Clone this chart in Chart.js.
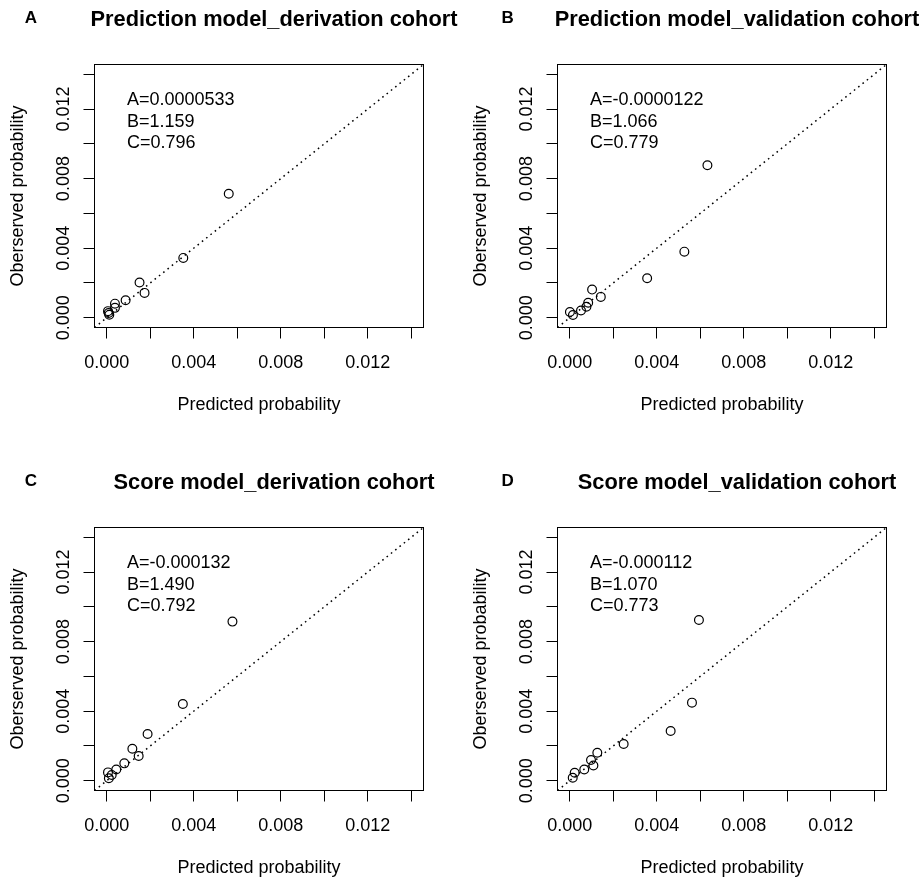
<!DOCTYPE html>
<html>
<head>
<meta charset="utf-8">
<script src="https://cdn.jsdelivr.net/npm/chart.js@4/dist/chart.umd.min.js"></script>
<style>
  html, body { margin: 0; padding: 0; background: #fff; }
  #wrap { position: relative; width: 924px; height: 878px; overflow: hidden; background: #fff; }
  canvas { position: absolute; }
</style>
</head>
<body>
<div id="wrap">
  <canvas id="cA" width="463" height="463" style="left:0;top:0"></canvas>
  <canvas id="cB" width="461" height="463" style="left:463px;top:0"></canvas>
  <canvas id="cC" width="463" height="463" style="left:0;top:463px"></canvas>
  <canvas id="cD" width="461" height="463" style="left:463px;top:463px"></canvas>
</div>
<script>
// axis setup (same for every panel)
var axisLim = [-0.00056, 0.01456];
var tickValues = [0, 0.002, 0.004, 0.006, 0.008, 0.010, 0.012, 0.014];
var tickLabels = ['0.000', '', '0.004', '', '0.008', '', '0.012', ''];

// A: prediction model, derivation cohort
var predA = [0.00561, 0.00352, 0.00151, 0.00174, 0.00087, 0.00038, 0.00038, 0.00006, 0.00012, 0.00009];
var obsA  = [0.00713, 0.00344, 0.00203, 0.00143, 0.00101, 0.00081, 0.00057, 0.00038, 0.00017, 0.00027];
// B: prediction model, validation cohort
var predB = [0.00633, 0.00527, 0.00356, 0.00103, 0.00143, 0.00085, 0.00077, 0.00052, 0.00015, 0.00001];
var obsB  = [0.00877, 0.00380, 0.00227, 0.00162, 0.00120, 0.00086, 0.00063, 0.00042, 0.00016, 0.00033];
// C: score model, derivation cohort
var predC = [0.00578, 0.00350, 0.00188, 0.00118, 0.00147, 0.00081, 0.00044, 0.00006, 0.00023, 0.00010];
var obsC  = [0.00915, 0.00441, 0.00269, 0.00184, 0.00142, 0.00100, 0.00065, 0.00048, 0.00033, 0.00014];
// D: score model, validation cohort
var predD = [0.00594, 0.00562, 0.00464, 0.00248, 0.00127, 0.00098, 0.00109, 0.00067, 0.00023, 0.00014];
var obsD  = [0.00924, 0.00449, 0.00286, 0.00211, 0.00161, 0.00119, 0.00088, 0.00065, 0.00046, 0.00017];

var titles = ['Prediction model_derivation cohort', 'Prediction model_validation cohort',
              'Score model_derivation cohort', 'Score model_validation cohort'];
var letters = ['A', 'B', 'C', 'D'];
var statsA = ['A=0.0000533', 'B=1.159', 'C=0.796'];
var statsB = ['A=-0.0000122', 'B=1.066', 'C=0.779'];
var statsC = ['A=-0.000132', 'B=1.490', 'C=0.792'];
var statsD = ['A=-0.000112', 'B=1.070', 'C=0.773'];

var FONT = "'Liberation Sans', Arial, sans-serif";

var boxPlugin = {
    id: 'box',
    afterDraw: function (chart) {
        var a = chart.chartArea;
        var ctx = chart.ctx;
        ctx.save();
        ctx.strokeStyle = '#000';
        ctx.lineWidth = 1;
        ctx.strokeRect(a.left, a.top, a.right - a.left, a.bottom - a.top);
        ctx.restore();
    }
};

var textPlugin = {
    id: 'texts',
    afterDraw: function (chart) {
        var o = chart.options.plugins.texts;
        var ctx = chart.ctx;
        ctx.save();
        ctx.fillStyle = '#000';
        ctx.textBaseline = 'middle';
        ctx.textAlign = 'center';
        ctx.font = 'bold 17px ' + FONT;
        ctx.fillText(o.letter, o.letterX, 18);
        ctx.font = 'bold 21.8px ' + FONT;
        ctx.fillText(o.title, 274, 20);
        ctx.textAlign = 'left';
        ctx.font = '18px ' + FONT;
        for (var i = 0; i < o.stats.length; i++) {
            ctx.fillText(o.stats[i], 127, 100 + i * 21.7);
        }
        ctx.restore();
    }
};

function makePanel(id, pred, obs, n, stats, rightPad, letterX) {
    var pts = [];
    for (var i = 0; i < pred.length; i++) pts.push({ x: pred[i], y: obs[i] });
    var diag = axisLim.map(function (v) { return { x: v, y: v }; });

    new Chart(document.getElementById(id), {
        type: 'scatter',
        data: {
            datasets: [{
                type: 'line',
                data: diag,
                borderColor: '#000',
                borderWidth: 1.5,
                borderDash: [1.6, 3.9],
                pointRadius: 0,
                fill: false
            }, {
                data: pts,
                borderColor: '#000',
                backgroundColor: 'rgba(0,0,0,0)',
                borderWidth: 1.2,
                pointRadius: 4.4
            }]
        },
        options: {
            responsive: false,
            animation: false,
            devicePixelRatio: 1,
            events: [],
            layout: { padding: { left: 0, top: 64.5, right: rightPad, bottom: 47.5 } },
            plugins: {
                legend: { display: false },
                tooltip: { enabled: false },
                texts: { title: titles[n], letter: letters[n], stats: stats, letterX: letterX }
            },
            scales: {
                x: {
                    type: 'linear',
                    min: axisLim[0],
                    max: axisLim[1],
                    afterBuildTicks: function (s) { s.ticks = tickValues.map(function (v) { return { value: v }; }); },
                    afterFit: function (s) { s.height = 88; },
                    grid: { display: true, drawOnChartArea: false, drawTicks: true, tickLength: 11, color: '#000', lineWidth: 1 },
                    border: { display: true, color: '#000', width: 1 },
                    ticks: {
                        autoSkip: false, maxRotation: 0, minRotation: 0, padding: 14,
                        color: '#000', font: { family: FONT, size: 18 },
                        callback: function (v, i) { return tickLabels[i]; }
                    },
                    title: { display: true, text: 'Predicted probability', color: '#000',
                             font: { family: FONT, size: 18 }, padding: { top: 0, bottom: 0 } }
                },
                y: {
                    type: 'linear',
                    min: axisLim[0],
                    max: axisLim[1],
                    afterBuildTicks: function (s) { s.ticks = tickValues.map(function (v) { return { value: v }; }); },
                    afterFit: function (s) { s.width = 94.5; },
                    grid: { display: true, drawOnChartArea: false, drawTicks: true, tickLength: 11, color: '#000', lineWidth: 1 },
                    border: { display: true, color: '#000', width: 1 },
                    ticks: {
                        autoSkip: false, minRotation: 90, maxRotation: 90, crossAlign: 'center', padding: -3,
                        color: '#000', font: { family: FONT, size: 18 },
                        callback: function (v, i) { return tickLabels[i]; }
                    },
                    title: { display: true, text: 'Oberserved probability', color: '#000',
                             font: { family: FONT, size: 18 }, padding: { top: 7.5, bottom: 0 } }
                }
            }
        },
        plugins: [boxPlugin, textPlugin]
    });
}

makePanel('cA', predA, obsA, 0, statsA, 39.5, 31);
makePanel('cB', predB, obsB, 1, statsB, 37.5, 44.6);
makePanel('cC', predC, obsC, 2, statsC, 39.5, 31);
makePanel('cD', predD, obsD, 3, statsD, 37.5, 44.6);
</script>
</body>
</html>
